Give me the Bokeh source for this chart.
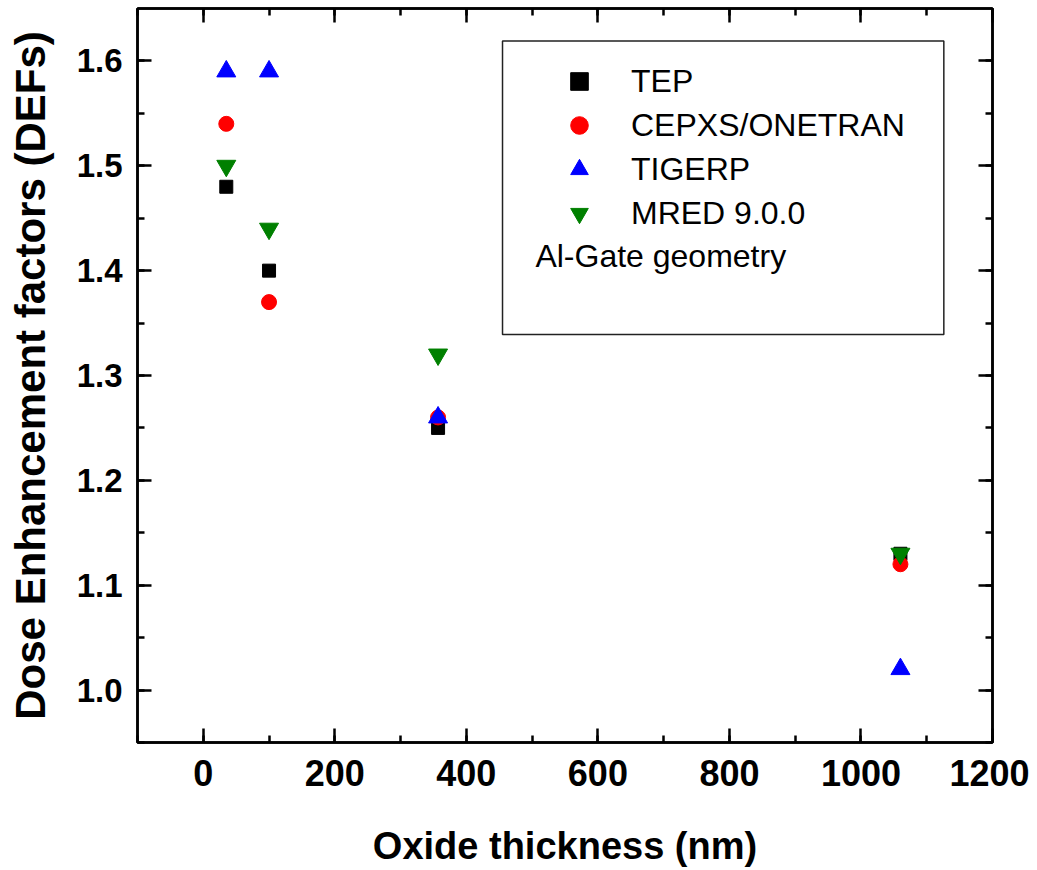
from bokeh.plotting import figure
from bokeh.models import (LinearAxis, SingleIntervalTicker, Range1d, Legend, LegendItem,
                          BoxAnnotation, Label, CustomJSTickFormatter, PrintfTickFormatter)
from bokeh.embed import file_html
from bokeh.resources import INLINE

# ---- data ----
thickness = [35, 100, 357, 1060]
tep = [1.48, 1.40, 1.25, 1.13]
cepxs = [1.54, 1.37, 1.26, 1.12]
tigerp = [1.59, 1.59, 1.26, 1.02]
mred = [1.50, 1.44, 1.32, 1.13]
series_names = ["TEP", "CEPXS/ONETRAN", "TIGERP", "MRED 9.0.0"]
note_text = "Al-Gate geometry"
x_title = "Oxide thickness (nm)"
y_title = "Dose Enhancement factors (DEFs)"

FONT = "Liberation Sans"

p = figure(width=1029, height=869, output_backend="svg", toolbar_location=None,
           x_range=Range1d(-100, 1200), y_range=Range1d(0.95, 1.65),
           min_border_left=137, min_border_right=37, min_border_top=8, min_border_bottom=127,
           x_axis_location=None, y_axis_location=None)
p.grid.visible = False
p.outline_line_color = "black"
p.outline_line_width = 2.5
p.background_fill_color = "white"
p.border_fill_color = "white"

xt = SingleIntervalTicker(interval=200, num_minor_ticks=2)
yt = SingleIntervalTicker(interval=0.1, num_minor_ticks=2)

def style(ax, show_labels):
    ax.axis_line_width = 2.5
    ax.major_tick_line_width = 2.5
    ax.minor_tick_line_width = 2.5
    ax.major_tick_in = 14
    ax.major_tick_out = 0
    ax.minor_tick_in = 7
    ax.minor_tick_out = 0
    if not show_labels:
        ax.formatter = CustomJSTickFormatter(code="return '';")
        ax.major_label_standoff = 0
        ax.major_label_text_font_size = "2px"
        ax.axis_label = None

xb = LinearAxis(ticker=xt, axis_label=x_title)
style(xb, True)
xb.major_label_text_font = FONT
xb.major_label_text_font_style = "bold"
xb.major_label_text_font_size = "36px"
xb.major_label_text_color = "black"
xb.major_label_standoff = 17
xb.axis_label_text_font = FONT
xb.axis_label_text_font_style = "bold"
xb.axis_label_text_font_size = "38px"
xb.axis_label_text_color = "black"
xb.axis_label_standoff = 36
p.add_layout(xb, "below")

yl = LinearAxis(ticker=yt, axis_label=y_title, formatter=PrintfTickFormatter(format="%.1f"))
style(yl, True)
yl.major_label_text_font = FONT
yl.major_label_text_font_style = "bold"
yl.major_label_text_font_size = "33px"
yl.major_label_text_color = "black"
yl.major_label_standoff = 15
yl.axis_label_text_font = FONT
yl.axis_label_text_font_style = "bold"
yl.axis_label_text_font_size = "42px"
yl.axis_label_text_color = "black"
yl.axis_label_standoff = 20
p.add_layout(yl, "left")

xa = LinearAxis(ticker=xt)
style(xa, False)
p.add_layout(xa, "above")
yr = LinearAxis(ticker=yt)
style(yr, False)
p.add_layout(yr, "right")

r1 = p.scatter(thickness, tep, marker="square", size=13, color="black")
r2 = p.scatter(thickness, cepxs, marker="circle", size=15, color="red")
r3 = p.scatter(thickness, tigerp, marker="triangle", size=19, color="blue")
r4 = p.scatter(thickness, mred, marker="inverted_triangle", size=19, color="green")

box = BoxAnnotation(left=455, right=1126, top=1.619, bottom=1.339,
                    fill_alpha=0, line_color="#222222", line_alpha=1, line_width=1.5)
p.add_layout(box)

legend = Legend(items=[LegendItem(label=n, renderers=[r]) for n, r in
                       zip(series_names, [r1, r2, r3, r4])],
                location=(417, 507), border_line_color=None, background_fill_alpha=0,
                padding=0, margin=0, spacing=0, glyph_width=50, glyph_height=44,
                label_standoff=27, label_text_font=FONT, label_text_font_size="32px",
                label_text_color="black")
p.add_layout(legend)

note = Label(x=505, y=1.414, text=note_text, text_font=FONT, text_font_size="32px",
             text_baseline="middle", text_color="black")
p.add_layout(note)

open("out.html", "w").write(file_html(p, INLINE))
